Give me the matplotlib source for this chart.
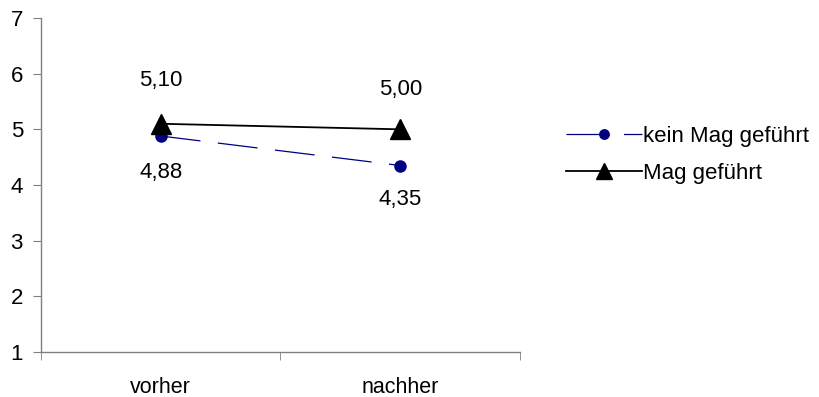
import matplotlib
matplotlib.use("Agg")
import matplotlib.pyplot as plt
from matplotlib.ticker import FixedLocator

categories = ["vorher", "nachher"]
kein_mag = [4.88, 4.35]
mag = [5.10, 5.00]
kein_labels = ["4,88", "4,35"]
mag_labels = ["5,10", "5,00"]
yticks = [1, 2, 3, 4, 5, 6, 7]

plt.rcParams['font.family'] = ['Liberation Sans', 'DejaVu Sans']

fig = plt.figure(figsize=(8.2, 3.97), dpi=100)
ax = fig.add_axes([41/820, 45/397, (520-41)/820, (352-18)/397])

x = list(range(len(categories)))
l1, = ax.plot(x, kein_mag, color='#000080', lw=0.9, dashes=(32, 14),
              marker='o', markersize=8, label='kein Mag geführt')
l2, = ax.plot(x, mag, color='black', lw=1.3, marker='^', markersize=14,
              label='Mag geführt')

for xi, v, t, off in zip(x, mag, mag_labels, [31, 28.5]):
    ax.annotate(t, (xi, v), xytext=(0, off), textcoords='offset points',
                ha='center', va='center', fontsize=16)
for xi, v, t, off in zip(x, kein_mag, kein_labels, [-26.6, -24.5]):
    ax.annotate(t, (xi, v), xytext=(0, off), textcoords='offset points',
                ha='center', va='center', fontsize=16)

ax.set_xlim(-0.5, len(categories) - 0.5)
ax.set_ylim(1, 7)
ax.set_yticks(yticks)
ax.set_yticklabels([str(t) for t in yticks])
ax.set_xticks(x)
ax.set_xticklabels(categories)
ax.xaxis.set_minor_locator(FixedLocator([i - 0.5 for i in range(len(categories) + 1)]))
ax.tick_params(axis='x', which='major', length=0, pad=18, labelsize=15.5)
ax.tick_params(axis='x', which='minor', length=6, direction='out', color='#808080')
ax.tick_params(axis='y', length=6, direction='out', color='#808080', labelsize=16, pad=7)

for s in ['top', 'right']:
    ax.spines[s].set_visible(False)
for s in ['left', 'bottom']:
    ax.spines[s].set_color('#808080')
    ax.spines[s].set_linewidth(1.0)

fig.legend(handles=[l1, l2], loc='center left', bbox_to_anchor=(555/820, 1 - 155/397),
           frameon=False, fontsize=16, handlelength=3.4, handletextpad=0.05,
           labelspacing=0.7, borderpad=0, markerscale=0.85)

fig.savefig('out.png', dpi=100)
